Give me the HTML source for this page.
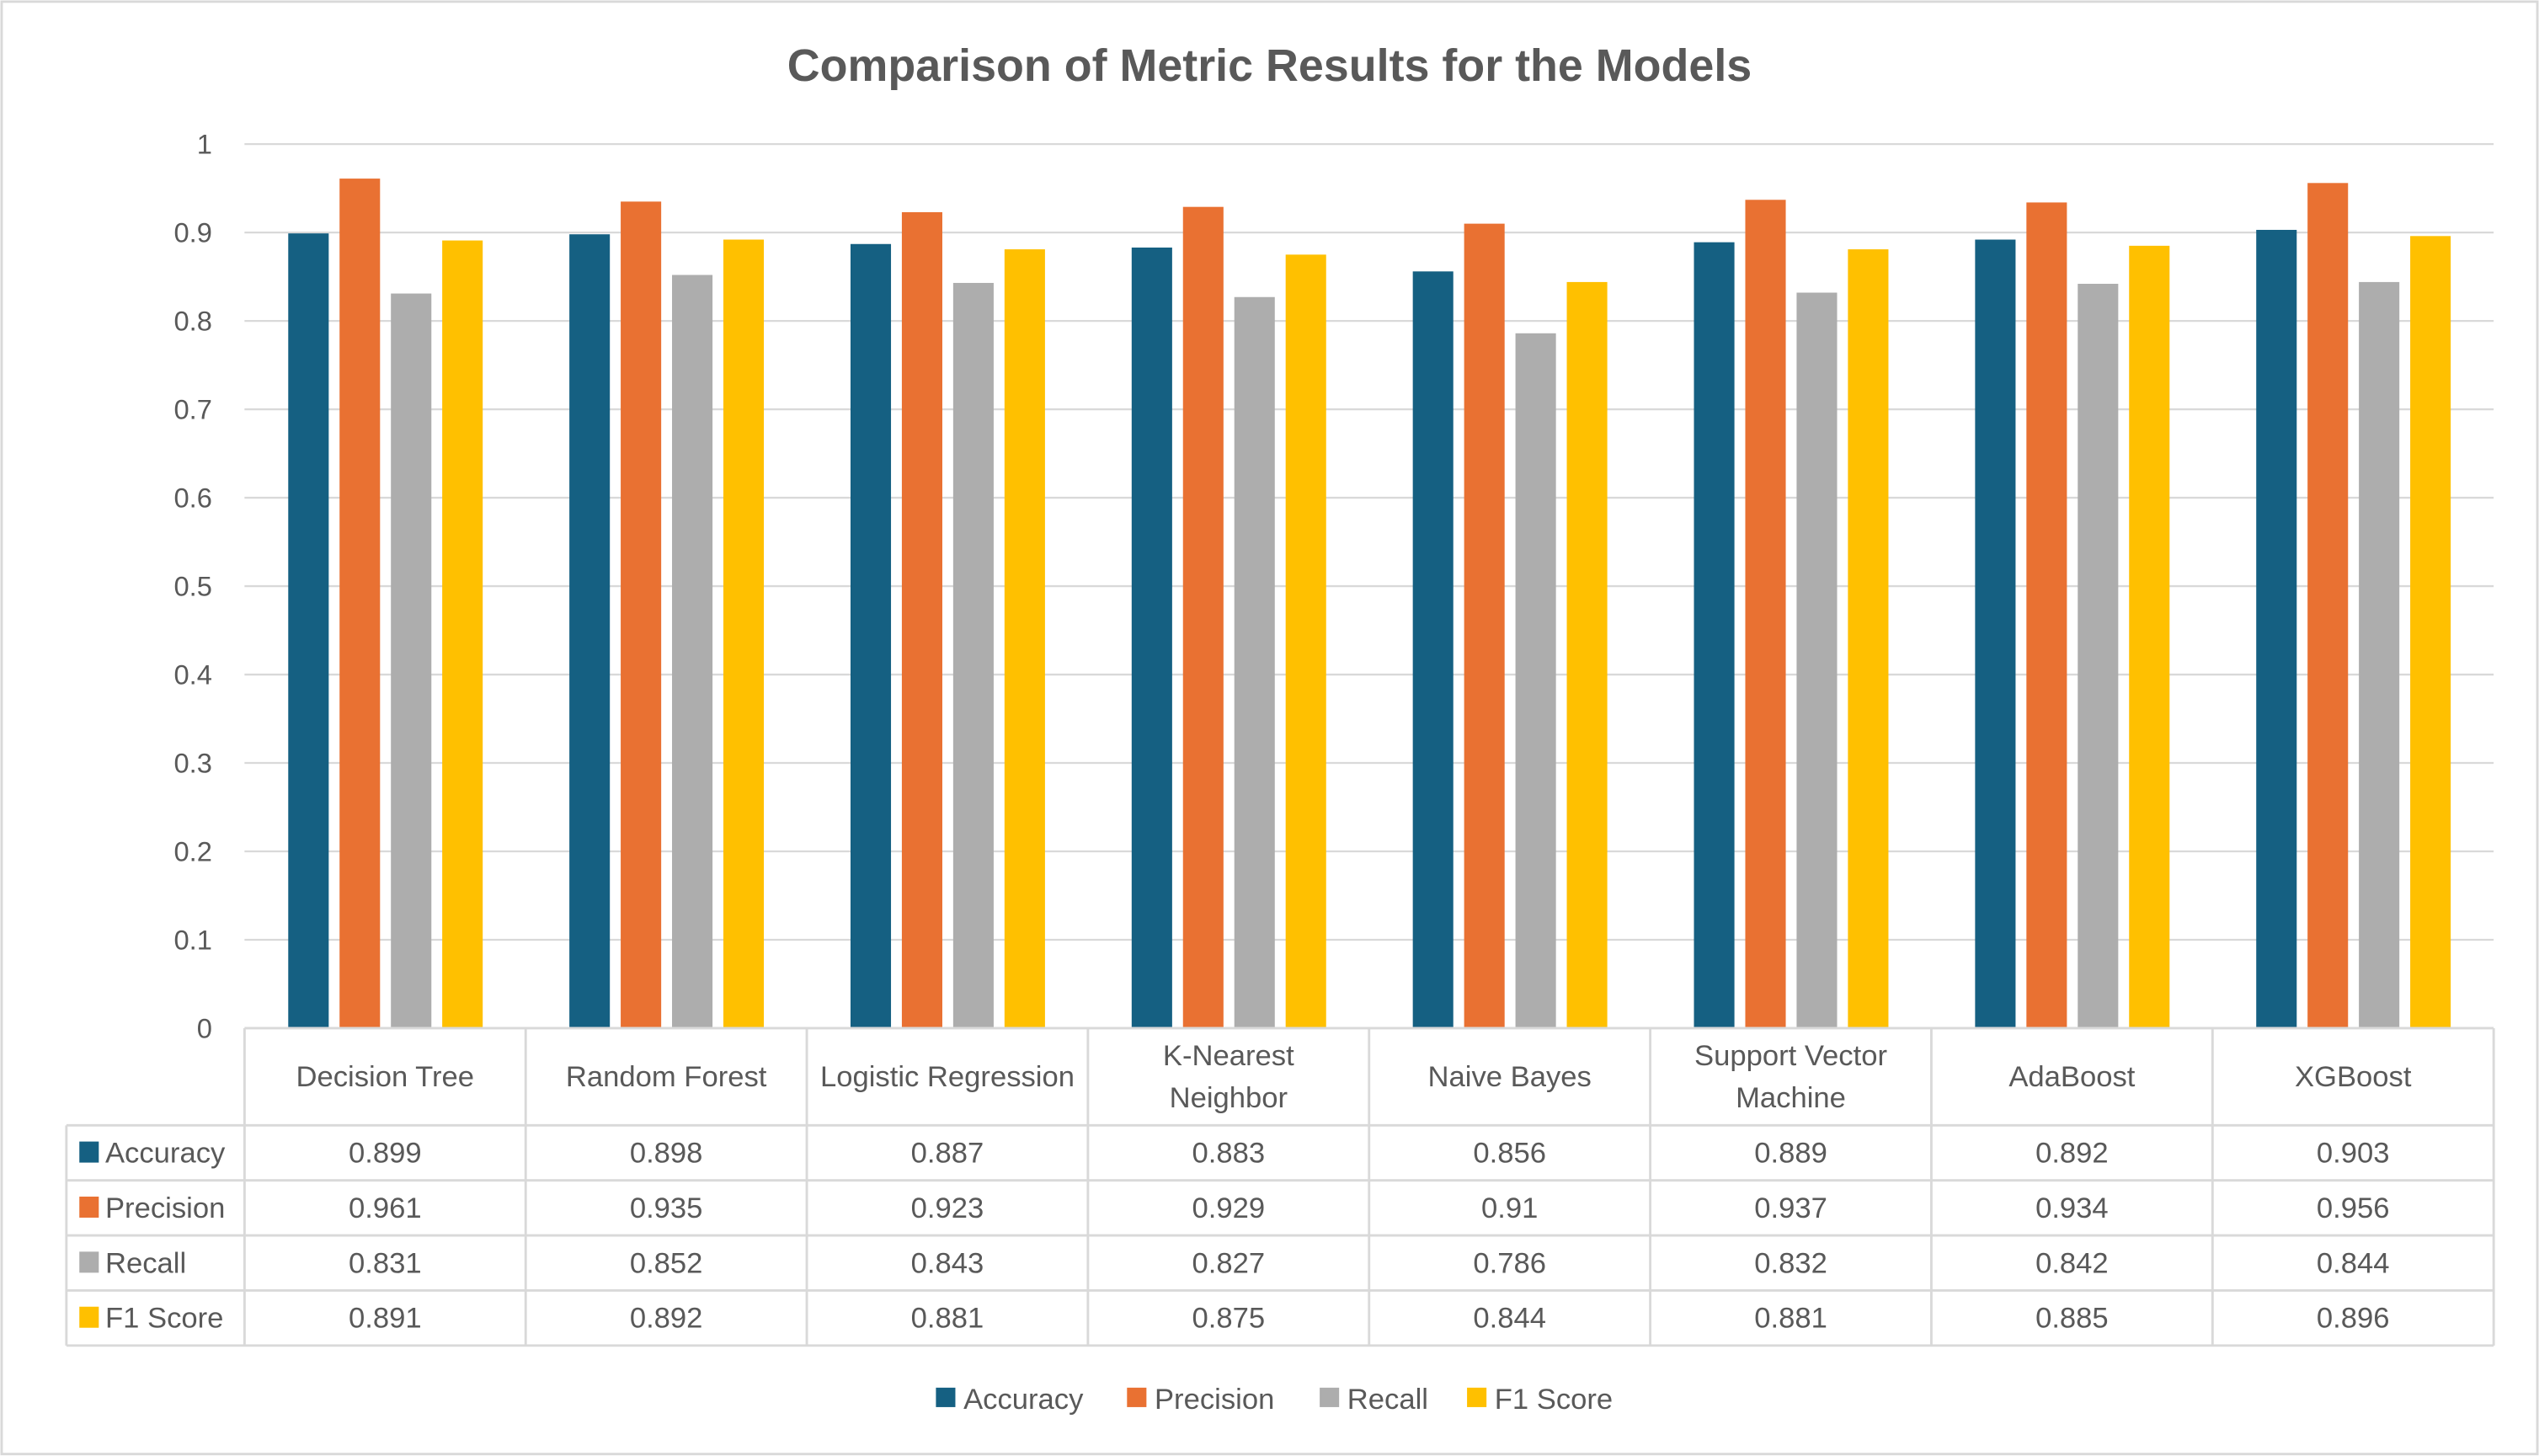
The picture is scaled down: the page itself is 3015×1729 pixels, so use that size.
<!DOCTYPE html>
<html><head><meta charset="utf-8"><style>
html,body{margin:0;padding:0;background:#fff;}
svg{display:block;font-family:"Liberation Sans",sans-serif;}
</style></head><body>
<svg id="chart" width="3015" height="1729" viewBox="0 0 1568 899.2" xmlns="http://www.w3.org/2000/svg">
<rect x="1" y="1" width="1566" height="897" fill="#fff" stroke="#d9d9d9" stroke-width="1.5"/>
<text x="784" y="50" text-anchor="middle" font-size="28" font-weight="bold" fill="#595959">Comparison of Metric Results for the Models</text>
<g id="grid"></g><g id="bars"></g><g id="table"></g><g id="legend"></g>
</svg>
<script>
const categories = ["Decision Tree","Random Forest","Logistic Regression","K-Nearest|Neighbor","Naive Bayes","Support Vector|Machine","AdaBoost","XGBoost"];
const seriesNames = ["Accuracy","Precision","Recall","F1 Score"];
const accuracy = [0.899,0.898,0.887,0.883,0.856,0.889,0.892,0.903];
const precision = [0.961,0.935,0.923,0.929,0.91,0.937,0.934,0.956];
const recall = [0.831,0.852,0.843,0.827,0.786,0.832,0.842,0.844];
const f1 = [0.891,0.892,0.881,0.875,0.844,0.881,0.885,0.896];
const yTicks = [0,0.1,0.2,0.3,0.4,0.5,0.6,0.7,0.8,0.9,1];
const yTickLabels = ["0","0.1","0.2","0.3","0.4","0.5","0.6","0.7","0.8","0.9","1"];
const series = [accuracy,precision,recall,f1];
const colors = ["#156082","#E97132","#ADADAD","#FFC000"];
const NS="http://www.w3.org/2000/svg";
const plotL=151, plotR=1540, y0=635, y1=89;
const catW=(plotR-plotL)/categories.length;
const y=v=>y0-(v/1)*(y0-y1);
const x=i=>plotL+i*catW;
function mk(tag,attrs,parent,text){const e=document.createElementNS(NS,tag);for(const k in attrs)e.setAttribute(k,attrs[k]);if(text!==undefined)e.textContent=text;parent.appendChild(e);return e;}
const grid=document.getElementById('grid');
yTicks.forEach((t,i)=>{
  if(t>0){const l=mk('line',{x1:plotL,x2:plotR,y1:y(t),y2:y(t),stroke:'#d9d9d9','stroke-width':1.2},grid);
  
  }
  const tx=mk('text',{x:131,y:y(t)+6,'text-anchor':'end','font-size':17,fill:'#595959'},grid,yTickLabels[i]);
  
  
});
const bars=document.getElementById('bars');
const bw=25, step=31.7, off=27;
categories.forEach((c,i)=>{
  series.forEach((s,j)=>{
    const r=mk('rect',{x:x(i)+off+j*step,y:y(s[i]),width:bw,height:y0-y(s[i]),fill:colors[j]},bars);
    
    
  });
});
const tb=document.getElementById('table');
const rowY=[635,695,729,763,797,831];
const lc='#d9d9d9';
// vertical lines
for(let i=0;i<=categories.length;i++){const l=mk('line',{x1:x(i),x2:x(i),y1:635,y2:831,stroke:lc,'stroke-width':1.5},tb);
  
  }
const l0=mk('line',{x1:41,x2:41,y1:695,y2:831,stroke:lc,'stroke-width':1.5},tb);


rowY.forEach((ry,k)=>{const l=mk('line',{x1:k===0?plotL:41,x2:plotR,y1:ry,y2:ry,stroke:lc,'stroke-width':1.5},tb);
  
  });
categories.forEach((c,i)=>{
  const parts=c.split('|');const cx=x(i)+catW/2;
  parts.forEach((p,k)=>{const t=mk('text',{x:cx,y:(parts.length===1?671:658+k*26),'text-anchor':'middle','font-size':18,fill:'#595959'},tb,p);
    
    });
});
series.forEach((s,j)=>{
  const cy=(rowY[j+1]+rowY[j+2])/2;
  const sw=mk('rect',{x:49,y:cy-7,width:12,height:13,fill:colors[j]},tb);
  
  
  const nm=mk('text',{x:65,y:cy+6,'font-size':18,fill:'#595959'},tb,seriesNames[j]);
  
  
  s.forEach((v,i)=>{const t=mk('text',{x:x(i)+catW/2,y:cy+6,'text-anchor':'middle','font-size':18,fill:'#595959'},tb,String(v));
    
    });
});
const lg=document.getElementById('legend');
const lx=[578,696,815,906];
seriesNames.forEach((n,j)=>{
  const g=mk('g',{},lg);
  
  
  mk('rect',{x:lx[j],y:857,width:12,height:12,fill:colors[j]},g);
  mk('text',{x:lx[j]+17,y:870,'font-size':18,fill:'#595959'},g,n);
});
</script>
</body></html>
